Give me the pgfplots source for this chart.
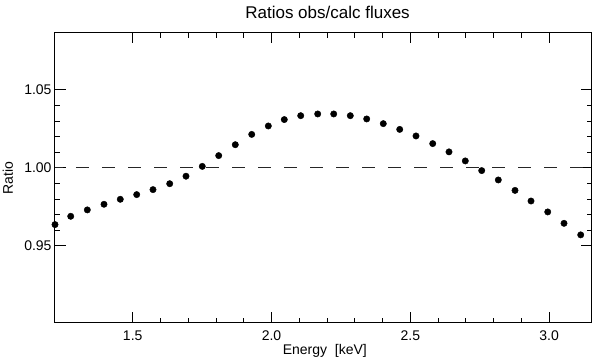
\documentclass[border=0pt]{standalone}
\usepackage{fontspec}
\setmainfont{Liberation Sans}
\usepackage{pgfplots}
\pgfplotsset{compat=1.18}
\begin{document}
\begin{tikzpicture}
\useasboundingbox (-55pt,-35.3pt) rectangle (537pt,322.7pt);
\begin{axis}[
  at={(0,0)}, anchor=south west,
  scale only axis,
  width=536.5pt, height=289.7pt,
  xmin=1.2201, xmax=3.1527,
  ymin=0.9008, ymax=1.0865,
  axis line style={line width=1pt},
  xtick={1.5,2.0,2.5,3.0},
  ytick={0.95,1.00,1.05},
  minor x tick num=4,
  minor y tick num=4,
  tick align=inside,
  tick pos=both,
  major tick length=10.5pt,
  minor tick length=5pt,
  every tick/.style={black, line width=0.9pt},
  /pgf/number format/assume math mode=true,
  xticklabel={\pgfmathprintnumber[fixed,fixed zerofill,precision=1]{\tick}},
  yticklabel={\pgfmathprintnumber[fixed,fixed zerofill,precision=2]{\tick}},
  xticklabel style={anchor=base, inner sep=0pt, yshift=-18.3pt, font=\fontsize{14}{16}\selectfont},
  yticklabel style={anchor=east, inner sep=0pt, xshift=-3.3pt, font=\fontsize{14}{16}\selectfont},
  title={Ratios obs/calc fluxes},
  title style={at={(axis description cs:0.508,1.0276)}, anchor=base, inner sep=0pt, font=\fontsize{17}{20}\selectfont},
  xlabel={Energy\ \ [keV]},
  xlabel style={at={(axis description cs:0.503,-0.1115)}, anchor=base, inner sep=0pt, font=\fontsize{14}{16}\selectfont},
  ylabel={Ratio},
  ylabel style={at={(axis description cs:-0.0783,0.5)}, anchor=base, inner sep=0pt, font=\fontsize{14}{16}\selectfont},
  clip=true,
]
\addplot[black!85, line width=1.1pt, dash pattern=on 13pt off 13pt, dash phase=5pt, forget plot]
  coordinates {(1.2201,1.0) (3.1527,1.0)};
\addplot[only marks, mark=*, mark size=3.2pt, black]
  coordinates {
  (1.2201,0.9637) (1.2767,0.9690) (1.3365,0.9731) (1.3966,0.9767)
  (1.4553,0.9799) (1.5144,0.9829) (1.5731,0.9861) (1.6333,0.9899)
  (1.6920,0.9947) (1.7507,1.0010) (1.8098,1.0079) (1.8696,1.0149)
  (1.9287,1.0215) (1.9885,1.0269) (2.0461,1.0310) (2.1052,1.0335)
  (2.1664,1.0346) (2.2241,1.0346) (2.2839,1.0335) (2.3429,1.0314)
  (2.4027,1.0284) (2.4618,1.0247) (2.5205,1.0205) (2.5807,1.0156)
  (2.6394,1.0103) (2.6981,1.0045) (2.7572,0.9983) (2.8170,0.9923)
  (2.8772,0.9856) (2.9348,0.9788) (2.9950,0.9718) (3.0537,0.9645)
  (3.1138,0.9571)
  };
\end{axis}
\end{tikzpicture}
\end{document}
